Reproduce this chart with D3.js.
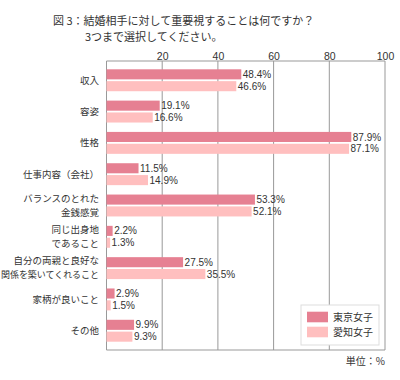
<!DOCTYPE html>
<html><head><meta charset="utf-8">
<script src="https://cdn.jsdelivr.net/npm/d3@7"></script>
<style>body{margin:0;background:#fff}svg{display:block;font-family:"Noto Sans CJK JP","DejaVu Sans",sans-serif}</style>
</head><body><svg id="c" width="400" height="380"></svg>
<script>
const categories = [["収入"],["容姿"],["性格"],["仕事内容（会社）"],["バランスのとれた","金銭感覚"],["同じ出身地","であること"],["自分の両親と良好な","関係を築いてくれること"],["家柄が良いこと"],["その他"]];
const seriesNames = ["東京女子","愛知女子"];
const tokyo = [48.4,19.1,87.9,11.5,53.3,2.2,27.5,2.9,9.9];
const aichi = [46.6,16.6,87.1,14.9,52.1,1.3,35.5,1.5,9.3];
const xTicks = [20,40,60,80,100];
const colors = ["#E68092","#FFBFBF"];

const svg = d3.select("#c");
const L=106.5,R=385,T=61,B=350;
const x = d3.scaleLinear().domain([0,100]).range([L,R]);
const keys = categories.map((c,i)=>i);
const y0 = d3.scaleBand().domain(keys).range([T,B]).paddingInner(0.3).paddingOuter(0.265);
const y1 = d3.scaleBand().domain([0,1]).range([0,y0.bandwidth()]).paddingInner(0.15);
const series=[tokyo,aichi];

// title
svg.append("text").attr("x",53).attr("y",21.2).attr("dy","0.35em").attr("font-size",11).attr("fill","#333").text("図 3：結婚相手に対して重要視することは何ですか？");
svg.append("text").attr("x",85).attr("y",37.3).attr("dy","0.35em").attr("font-size",11).attr("fill","#333").text("3つまで選択してください。");

// grid
const g=svg.append("g");
g.selectAll("line.grid").data(xTicks).join("line").attr("x1",d=>x(d)).attr("x2",d=>x(d)).attr("y1",T).attr("y2",B).attr("stroke","#999");
g.append("line").attr("x1",L).attr("x2",R).attr("y1",T).attr("y2",T).attr("stroke","#999");
g.append("line").attr("x1",L).attr("x2",R).attr("y1",B).attr("y2",B).attr("stroke","#999");
g.append("line").attr("x1",L).attr("x2",L).attr("y1",T).attr("y2",B).attr("stroke","#999");

// top axis labels
const ax = d3.axisTop(x).tickValues(xTicks).tickSize(0).tickPadding(0);
const axg = svg.append("g").attr("transform",`translate(0,${T})`).call(ax);
axg.select(".domain").remove();
axg.selectAll("text").attr("font-size",10.5).attr("fill","#333").attr("font-family",'"Liberation Sans",sans-serif').attr("dy","-1.5px");

// bars
series.forEach((s,si)=>{
  svg.append("g").selectAll("rect").data(s).join("rect")
    .attr("x",x(0)).attr("y",(d,i)=>y0(i)+y1(si))
    .attr("width",d=>x(d)-x(0)).attr("height",y1.bandwidth()).attr("fill",colors[si]);
  svg.append("g").selectAll("text").data(s).join("text")
    .attr("x",d=>x(d)+1.5).attr("y",(d,i)=>y0(i)+y1(si)+y1.bandwidth()/2)
    .attr("dy","0.36em").attr("font-size",10).attr("font-family",'"Liberation Sans",sans-serif').attr("fill","#333").text(d=>d.toFixed(1)+"%");
});

// category labels
categories.forEach((lines,i)=>{
  const cy=y0(i)+y0.bandwidth()/2;
  const t=svg.append("text").attr("text-anchor","end").attr("font-size",9.5).attr("fill","#333");
  lines.forEach((ln,j)=>{
    const sp=t.append("tspan").attr("x",99).attr("y",cy+(j-(lines.length-1)/2)*13.9).attr("dy","0.35em").text(ln);
    if(sp.node().getComputedTextLength()>98){sp.attr("textLength",98).attr("lengthAdjust","spacingAndGlyphs");}
  });
});

// legend
const lg=svg.append("g");
lg.append("rect").attr("x",301).attr("y",305).attr("width",78).attr("height",40).attr("fill","#fff").attr("stroke","#ddd");
seriesNames.forEach((n,i)=>{
  lg.append("rect").attr("x",307).attr("y",311.7+i*15).attr("width",21).attr("height",10.6).attr("fill",colors[i]);
  lg.append("text").attr("x",333).attr("y",317+i*15).attr("dy","0.35em").attr("font-size",10).attr("fill","#333").text(n);
});

// unit
svg.append("text").attr("x",385).attr("y",361).attr("dy","0.35em").attr("text-anchor","end").attr("font-size",10).attr("fill","#333").text("単位：%");
</script></body></html>
